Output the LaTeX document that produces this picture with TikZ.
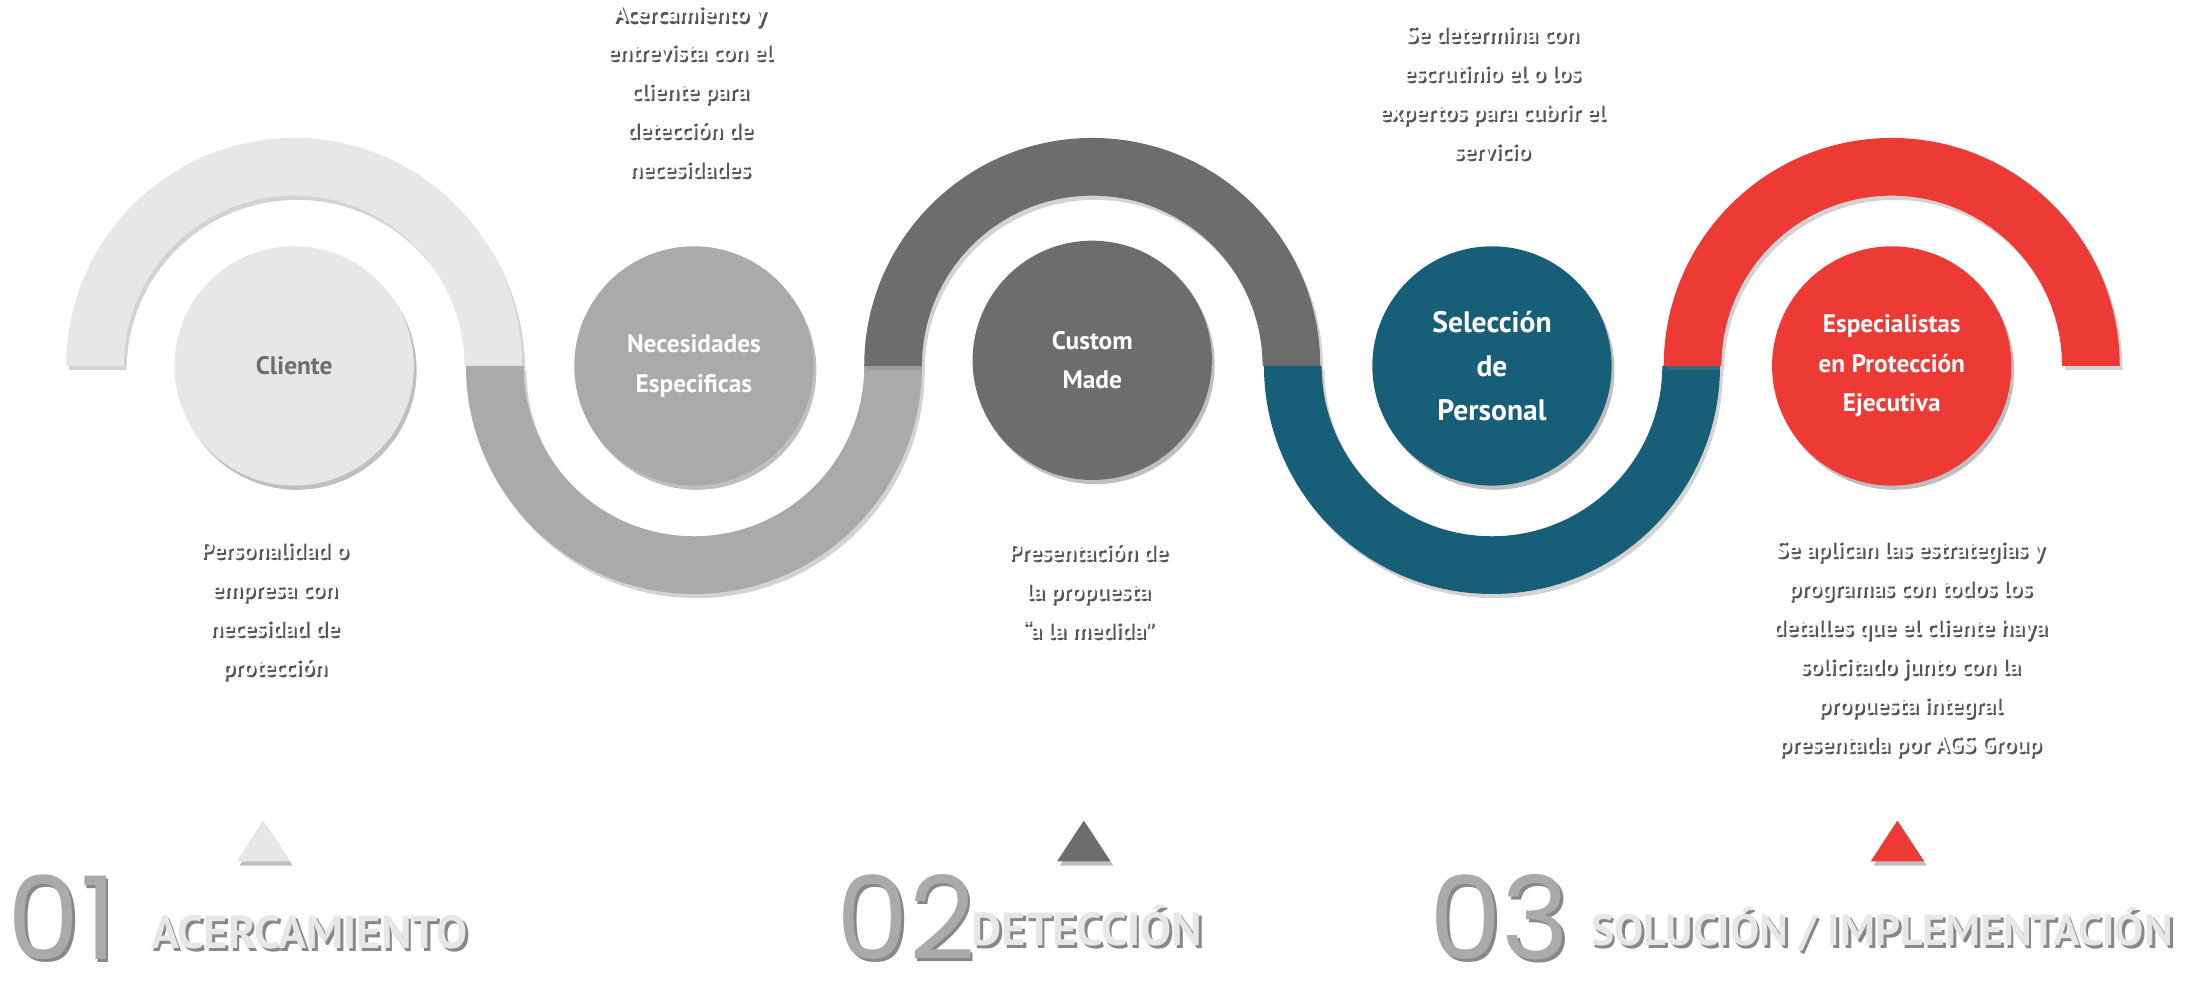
\documentclass[tikz,border=0pt]{standalone}
\usepackage{fontspec}
\setmainfont{PT Sans}
\newfontfamily\numfont{Poppins}
\usetikzlibrary{shadows}
\definecolor{cA}{HTML}{E6E7E8}
\definecolor{cB}{HTML}{A9AAAA}
\definecolor{cC}{HTML}{6D6D6D}
\definecolor{cD}{HTML}{175F78}
\definecolor{cE}{HTML}{EE3A35}
\definecolor{shd}{HTML}{555555}
\tikzset{
 circ/.style={circle,minimum size=85pt,inner sep=0pt,align=center,font=\bfseries\fontsize{9}{14}\selectfont,drop shadow={shadow xshift=1pt,shadow yshift=-1.5pt,opacity=0.5}},
 desc/.style={align=center,font=\bfseries\fontsize{8.3}{13.8}\selectfont,inner sep=0pt},
 big/.style={font=\numfont\fontsize{41}{41}\selectfont,inner sep=0pt,anchor=base west,text=cB},
 lab/.style={font=\bfseries\fontsize{16.5}{16.5}\selectfont,inner sep=0pt,anchor=base west,text=cA},
 tri/.style={drop shadow={shadow xshift=1pt,shadow yshift=-1.5pt,opacity=0.5}},
 arcs/.style={drop shadow={shadow xshift=1pt,shadow yshift=-1.5pt,opacity=0.35}}
}
\newcommand{\shtext}[4]{% x,y,name,text
 \node[desc,text=shd] at (#1+1.5,#2+1.5) {#4};
 \node[desc,text=white] (#3) at (#1,#2) {#4};}
\newcommand{\shbig}[5]{% x,y,style,name,text
 \node[#3,text=shd!70] at (#1+2,#2+2) {#5};
 \node[#3] (#4) at (#1,#2) {#5};}
\begin{document}
\begin{tikzpicture}[x=0.5pt,y=-0.5pt]
\useasboundingbox (0,0) rectangle (1568,701);
% arcs
\fill[cA,arcs] (47,260) arc[start angle=180,end angle=360,radius=162] -- (330,260) arc[start angle=0,end angle=-180,radius=121] -- cycle;
\fill[cB,arcs] (331,260) arc[start angle=180,end angle=0,radius=162] -- (614,260) arc[start angle=0,end angle=180,radius=121] -- cycle;
\fill[cC,arcs] (614,260) arc[start angle=180,end angle=360,radius=162] -- (897,260) arc[start angle=0,end angle=-180,radius=121] -- cycle;
\fill[cD,arcs] (898,260) arc[start angle=180,end angle=0,radius=162] -- (1181,260) arc[start angle=0,end angle=180,radius=121] -- cycle;
\fill[cE,arcs] (1182,260) arc[start angle=180,end angle=360,radius=162] -- (1465,260) arc[start angle=0,end angle=-180,radius=121] -- cycle;
% circles
\node[circ,fill=cA,text=cC] (c1) at (209,260) {Cliente};
\node[circ,fill=cB,text=white] (c2) at (493,260) {Necesidades\\Especificas};
\node[circ,fill=cC,text=white] (c3) at (776,256) {Custom\\Made};
\node[circ,fill=cD,text=white,font=\bfseries\fontsize{10.5}{15.5}\selectfont] (c4) at (1060,260) {Selección\\de\\Personal};
\node[circ,fill=cE,text=white] (c5) at (1344,260) {Especialistas\\en Protección\\Ejecutiva};
% descriptions
\shtext{490}{65}{d2}{Acercamiento y\\entrevista con el\\cliente para\\detección de\\necesidades}
\shtext{1060}{66}{d4}{Se determina con\\escrutinio el o los\\expertos para cubrir el\\servicio}
\shtext{195}{434}{d1}{Personalidad o\\empresa con\\necesidad de\\protección}
\shtext{773}{420}{d3}{Presentación de\\la propuesta\\“a la medida”}
\shtext{1357}{461}{d5}{Se aplican las estrategias y\\programas con todos los\\detalles que el cliente haya\\solicitado junto con la\\propuesta integral\\presentada por AGS Group}
% triangles
\fill[cA,tri] (168,612) -- (187,583) -- (206,612) -- cycle;
\fill[cC,tri] (751,612) -- (770,583) -- (789,612) -- cycle;
\fill[cE,tri] (1329,612) -- (1348,583) -- (1367,612) -- cycle;
% bottom labels
\shbig{5}{682}{big}{n1}{01}
\shbig{107}{674}{lab}{l1}{ACERCAMIENTO}
\shbig{594}{682}{big}{n2}{02}
\shbig{690}{672}{lab}{l2}{DETECCIÓN}
\shbig{1015}{682}{big}{n3}{03}
\shbig{1130}{672}{lab,font=\bfseries\fontsize{15.5}{15.5}\selectfont}{l3}{SOLUCIÓN / IMPLEMENTACIÓN}
\end{tikzpicture}
\end{document}
